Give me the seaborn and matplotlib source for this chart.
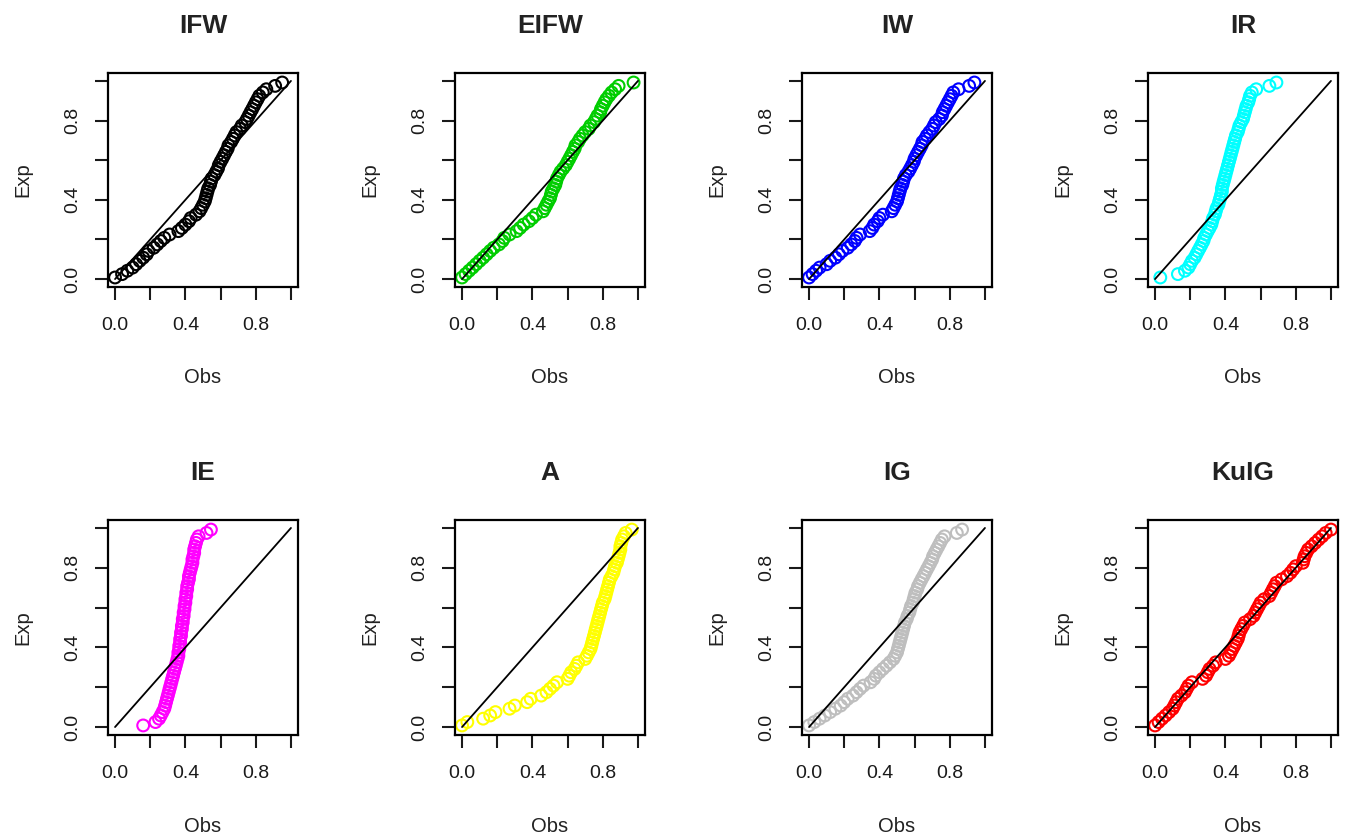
import matplotlib
matplotlib.use('Agg')
import matplotlib.pyplot as plt
import seaborn as sns

# expected (empirical) probabilities, shared by all panels
exp_prob = [0.008, 0.025, 0.042, 0.058, 0.075, 0.092, 0.108, 0.125, 0.142, 0.158,
            0.175, 0.192, 0.208, 0.225, 0.242, 0.258, 0.275, 0.292, 0.308, 0.325,
            0.342, 0.358, 0.375, 0.392, 0.408, 0.425, 0.442, 0.458, 0.475, 0.492,
            0.508, 0.525, 0.542, 0.558, 0.575, 0.592, 0.608, 0.625, 0.642, 0.658,
            0.675, 0.692, 0.708, 0.725, 0.742, 0.758, 0.775, 0.792, 0.808, 0.825,
            0.842, 0.858, 0.875, 0.892, 0.908, 0.925, 0.942, 0.958, 0.975, 0.992]

obs_ifw = [0.00, 0.04, 0.07, 0.10, 0.12, 0.14, 0.16, 0.18, 0.19, 0.22,
           0.24, 0.26, 0.28, 0.31, 0.36, 0.38, 0.40, 0.42, 0.43, 0.46,
           0.48, 0.49, 0.50, 0.51, 0.515, 0.52, 0.525, 0.53, 0.54, 0.545,
           0.55, 0.565, 0.575, 0.585, 0.59, 0.60, 0.61, 0.62, 0.63, 0.64,
           0.645, 0.66, 0.67, 0.68, 0.69, 0.71, 0.72, 0.74, 0.75, 0.76,
           0.77, 0.78, 0.79, 0.80, 0.81, 0.82, 0.84, 0.86, 0.91, 0.95]
obs_eifw = [0.00, 0.02, 0.04, 0.06, 0.08, 0.10, 0.12, 0.14, 0.16, 0.18,
            0.21, 0.23, 0.24, 0.27, 0.31, 0.33, 0.35, 0.38, 0.40, 0.42,
            0.46, 0.47, 0.48, 0.49, 0.50, 0.505, 0.51, 0.52, 0.53, 0.535,
            0.54, 0.55, 0.56, 0.575, 0.59, 0.60, 0.61, 0.62, 0.63, 0.64,
            0.645, 0.66, 0.67, 0.685, 0.70, 0.72, 0.73, 0.75, 0.76, 0.77,
            0.785, 0.79, 0.80, 0.81, 0.82, 0.835, 0.85, 0.87, 0.89, 0.975]
obs_iw = [0.00, 0.02, 0.04, 0.06, 0.10, 0.12, 0.15, 0.17, 0.19, 0.22,
          0.24, 0.26, 0.27, 0.29, 0.345, 0.36, 0.37, 0.39, 0.40, 0.42,
          0.47, 0.48, 0.49, 0.50, 0.505, 0.51, 0.515, 0.52, 0.53, 0.535,
          0.54, 0.55, 0.565, 0.575, 0.585, 0.595, 0.60, 0.61, 0.62, 0.63,
          0.64, 0.645, 0.66, 0.67, 0.685, 0.70, 0.71, 0.72, 0.74, 0.755,
          0.76, 0.77, 0.78, 0.79, 0.80, 0.81, 0.82, 0.85, 0.91, 0.94]
obs_ir = [0.03, 0.13, 0.17, 0.19, 0.20, 0.21, 0.225, 0.235, 0.245, 0.255,
          0.265, 0.275, 0.28, 0.29, 0.30, 0.31, 0.32, 0.325, 0.33, 0.34,
          0.345, 0.35, 0.36, 0.365, 0.37, 0.375, 0.38, 0.38, 0.385, 0.39,
          0.395, 0.40, 0.405, 0.41, 0.415, 0.42, 0.425, 0.43, 0.435, 0.44,
          0.445, 0.45, 0.455, 0.46, 0.47, 0.475, 0.48, 0.49, 0.50, 0.505,
          0.51, 0.515, 0.52, 0.53, 0.535, 0.54, 0.55, 0.575, 0.65, 0.69]
obs_ie = [0.16, 0.23, 0.25, 0.26, 0.27, 0.28, 0.285, 0.29, 0.295, 0.30,
          0.305, 0.31, 0.315, 0.32, 0.325, 0.33, 0.335, 0.34, 0.345, 0.35,
          0.355, 0.36, 0.36, 0.365, 0.365, 0.37, 0.37, 0.375, 0.375, 0.38,
          0.38, 0.385, 0.385, 0.39, 0.39, 0.395, 0.395, 0.40, 0.40, 0.405,
          0.405, 0.41, 0.41, 0.415, 0.42, 0.42, 0.425, 0.43, 0.435, 0.44,
          0.44, 0.445, 0.45, 0.45, 0.455, 0.46, 0.465, 0.475, 0.52, 0.545]
obs_a = [0.00, 0.03, 0.12, 0.16, 0.19, 0.27, 0.30, 0.37, 0.39, 0.45,
         0.48, 0.50, 0.52, 0.54, 0.60, 0.61, 0.62, 0.64, 0.65, 0.66,
         0.70, 0.71, 0.72, 0.73, 0.735, 0.74, 0.745, 0.75, 0.755, 0.76,
         0.765, 0.77, 0.775, 0.78, 0.785, 0.79, 0.795, 0.80, 0.81, 0.815,
         0.82, 0.825, 0.83, 0.835, 0.84, 0.85, 0.86, 0.865, 0.87, 0.88,
         0.885, 0.89, 0.895, 0.90, 0.90, 0.905, 0.91, 0.92, 0.93, 0.965]
obs_ig = [0.00, 0.03, 0.06, 0.09, 0.12, 0.15, 0.18, 0.20, 0.22, 0.25,
          0.27, 0.29, 0.31, 0.35, 0.37, 0.38, 0.40, 0.42, 0.44, 0.46,
          0.48, 0.49, 0.50, 0.505, 0.51, 0.515, 0.52, 0.525, 0.53, 0.535,
          0.54, 0.545, 0.555, 0.56, 0.57, 0.575, 0.58, 0.59, 0.595, 0.60,
          0.605, 0.615, 0.62, 0.63, 0.64, 0.65, 0.66, 0.67, 0.68, 0.69,
          0.70, 0.705, 0.715, 0.725, 0.735, 0.745, 0.755, 0.77, 0.84, 0.87]
obs_kuig = [0.00, 0.02, 0.04, 0.06, 0.08, 0.10, 0.11, 0.12, 0.13, 0.15,
            0.17, 0.18, 0.19, 0.21, 0.27, 0.29, 0.30, 0.31, 0.33, 0.345,
            0.40, 0.42, 0.43, 0.44, 0.45, 0.46, 0.47, 0.475, 0.48, 0.49,
            0.50, 0.51, 0.54, 0.56, 0.57, 0.58, 0.59, 0.60, 0.62, 0.65,
            0.66, 0.67, 0.68, 0.69, 0.72, 0.75, 0.77, 0.785, 0.80, 0.84,
            0.845, 0.85, 0.86, 0.87, 0.89, 0.91, 0.93, 0.95, 0.97, 1.00]

models = ['IFW', 'EIFW', 'IW', 'IR', 'IE', 'A', 'IG', 'KuIG']
obs_all = [obs_ifw, obs_eifw, obs_iw, obs_ir, obs_ie, obs_a, obs_ig, obs_kuig]
colors = ['#000000', '#00CD00', '#0000FF', '#00FFFF', '#FF00FF', '#FFFF00', '#BEBEBE', '#FF0000']
ref_line = [0.0, 1.0]
ticks = [0.0, 0.2, 0.4, 0.6, 0.8, 1.0]
tick_labels = ['0.0', '', '0.4', '', '0.8', '']

sns.set_style('white')
plt.rcParams['font.family'] = ['Liberation Sans', 'DejaVu Sans']

W, H = 1346, 838
fig = plt.figure(figsize=(W / 100, H / 100), dpi=100)
lefts = [108, 455, 802, 1148]
rows = [(73, 287), (520, 735)]

for i, (name, obs, col) in enumerate(zip(models, obs_all, colors)):
    r, c = divmod(i, 4)
    top, bot = rows[r]
    ax = fig.add_axes([lefts[c] / W, (H - bot) / H, 190 / W, (bot - top) / H])
    sns.scatterplot(x=obs, y=exp_prob, ax=ax, marker='o', s=72,
                    facecolor='none', edgecolor=col, linewidth=1.5, zorder=2)
    sns.lineplot(x=ref_line, y=ref_line, ax=ax, color='black', lw=1.3, zorder=3)
    ax.set_xlim(-0.04, 1.04)
    ax.set_ylim(-0.04, 1.04)
    ax.set_xticks(ticks)
    ax.set_xticklabels(tick_labels)
    ax.set_yticks(ticks)
    ax.set_yticklabels(tick_labels, rotation=90, va='center')
    ax.tick_params(direction='out', length=9.5, width=1.5, labelsize=14,
                   colors='#1a1a1a', left=True, bottom=True)
    ax.tick_params(axis='x', pad=12)
    ax.tick_params(axis='y', pad=10)
    for s in ax.spines.values():
        s.set_linewidth(1.6)
        s.set_color('black')
    ax.set_title(name, fontsize=19, fontweight='bold', pad=29, color='#222222')
    ax.set_xlabel('Obs', fontsize=14.5, color='#222222')
    ax.set_ylabel('Exp', fontsize=14.5, color='#222222')
    ax.xaxis.set_label_coords(0.5, -0.38)
    ax.yaxis.set_label_coords(-0.40, 0.5)

fig.savefig('out.png', dpi=100)
